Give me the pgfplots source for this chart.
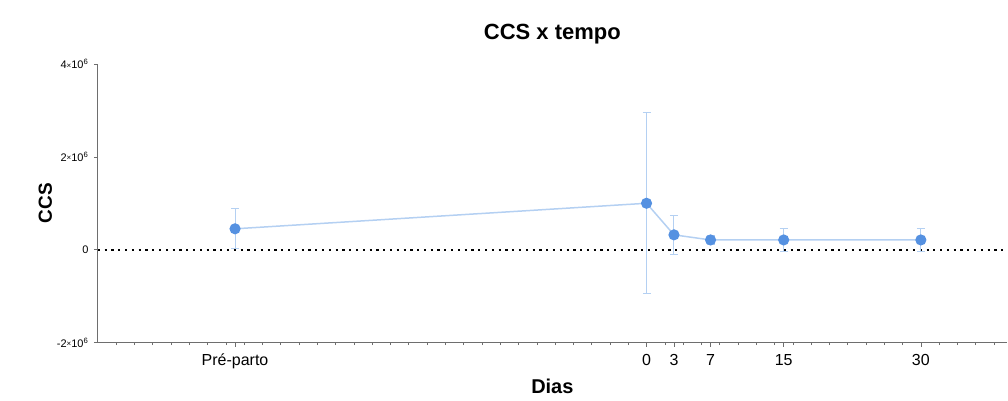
\documentclass[border=0pt]{standalone}
\usepackage{pgfplots}
\pgfplotsset{compat=1.18}
\usepackage{fontspec}
\setmainfont{Liberation Sans}
\definecolor{ln}{RGB}{180,208,242}
\definecolor{mk}{RGB}{85,145,225}
\definecolor{ax}{RGB}{110,110,110}
\newcommand{\sci}[1]{#1{\fontsize{8}{8}\selectfont\raisebox{0.5pt}{×}}10\textsuperscript{6}}
\begin{document}
\begin{tikzpicture}
\begin{axis}[
  name=ax,
  scale only axis,
  width=910pt, height=279pt,
  xmin=-60, xmax=39.4,
  ymin=-2e6, ymax=4e6,
  scaled y ticks=false,
  axis lines=left,
  axis line style={draw=ax, line width=0.8pt, -},
  x axis line style={-}, y axis line style={-},
  xtick={-45,0,3,7,15,30},
  xticklabels={Pré-parto,0,3,7,15,30},
  minor xtick={-58,-56,...,38},
  ytick={-2e6,0,2e6,4e6},
  yticklabels={\sci{-2},0,\sci{2},\sci{4}},
  tick style={draw=ax, line width=0.6pt},
  tick align=outside,
  major tick length=4pt, minor tick length=2.5pt,
  xticklabel style={font=\fontsize{16}{17}\selectfont, yshift=-4pt},
  yticklabel style={font=\fontsize{11}{12}\selectfont, xshift=-2pt},
  /pgf/number format/assume math mode=true,
  title={\textbf{CCS x tempo}},
  title style={font=\fontsize{22}{26}\selectfont, yshift=10pt},
  xlabel={\textbf{Dias}},
  xlabel style={font=\fontsize{20}{22}\selectfont, yshift=-3pt},
  ylabel={\textbf{CCS}},
  ylabel style={font=\fontsize{19}{22}\selectfont, yshift=-2pt},
  clip=false,
]
\addplot[black, line width=2.4pt, dash pattern=on 2.2pt off 4.6pt, forget plot] coordinates {(-60,0) (39.4,0)};
\addplot[ln, line width=1.5pt, mark=*, mark size=4.8pt,
  mark options={draw=mk, fill=mk},
  error bars/.cd, y dir=both, y explicit,
  error bar style={ln, line width=1pt},
  error mark options={rotate=90, mark size=4pt, ln, line width=1pt}]
coordinates {
  (-45,4.5e5) +- (0,4.3e5)
  (0,1.0e6) +- (0,1.95e6)
  (3,3.2e5) +- (0,4.2e5)
  (7,2.1e5) +- (0,1.0e5)
  (15,2.1e5) +- (0,2.4e5)
  (30,2.1e5) +- (0,2.4e5)
};
\end{axis}
\path (ax.south west) ++(-98pt,-58pt) coordinate (a);
\path (ax.south west) ++(910pt,343pt) coordinate (b);
\path[use as bounding box] (a) rectangle (b);
\end{tikzpicture}
\end{document}
